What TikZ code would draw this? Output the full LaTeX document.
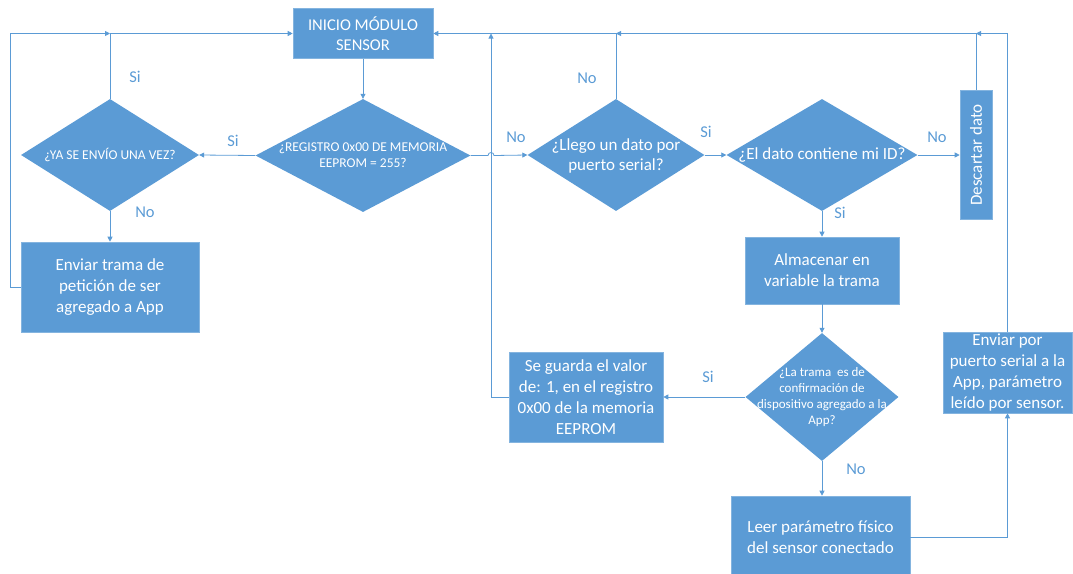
\documentclass[tikz,border=0pt]{standalone}
\usepackage{fontspec}
\setmainfont{Carlito}
\usetikzlibrary{shapes.geometric,arrows.meta}
\definecolor{ob}{HTML}{5B9BD5}
\begin{document}
\begin{tikzpicture}[x=1pt,y=-1pt,
  box/.style={rectangle, fill=ob, draw=ob!75!white, line width=0.6pt, text=white, align=center, inner sep=0pt, font=\fontsize{17}{21}\selectfont},
  dia/.style={diamond, fill=ob, draw=none, inner sep=0pt},
  dtext/.style={text=white, align=center, inner sep=0pt},
  lbl/.style={text=ob, font=\fontsize{16.5}{20}\selectfont, inner sep=0pt},
  flow/.style={draw=ob, line width=0.8pt, -{Triangle[length=5pt,width=5pt]}},
  plain/.style={draw=ob, line width=0.8pt}]
\useasboundingbox (0,0) rectangle (1073,573);
% nodes
\node[box, minimum width=140pt, minimum height=50pt, font=\fontsize{16.5}{20}\selectfont] (ini) at (363,33.5) {INICIO MÓDULO\\SENSOR};
\node[dia, minimum width=215pt, minimum height=113pt] (reg) at (363,155.5) {};
\node[dtext, font=\fontsize{13.5}{16.5}\selectfont] (regt) at (363,155) {¿REGISTRO 0x00 DE MEMORIA\\EEPROM = 255?};
\node[dia, minimum width=178pt, minimum height=112pt] (ya) at (110,155) {};
\node[dtext, font=\fontsize{13.5}{16}\selectfont] (yat) at (110,155) {¿YA SE ENVÍO UNA VEZ?};
\node[box, minimum width=178pt, minimum height=90pt] (env) at (110,287) {Enviar trama de\\petición de ser\\agregado a App};
\node[dia, minimum width=177pt, minimum height=112pt] (lle) at (616,155) {};
\node[dtext, font=\fontsize{17}{20}\selectfont] (llet) at (616,156) {¿Llego un dato por\\puerto serial?};
\node[dia, minimum width=191pt, minimum height=112pt] (eld) at (822,155) {};
\node[dtext, font=\fontsize{17}{20}\selectfont] (eldt) at (822,155) {¿El dato contiene mi ID?};
\node[box, minimum width=32pt, minimum height=129pt] (des) at (976,155) {};
\node[dtext, rotate=90, font=\fontsize{17}{20}\selectfont] (dest) at (des) {Descartar dato};
\node[box, minimum width=154pt, minimum height=67pt] (alm) at (822,270.5) {Almacenar en\\variable la trama};
\node[dia, minimum width=153pt, minimum height=128pt] (lat) at (822,397) {};
\node[dtext, font=\fontsize{13}{16}\selectfont] (latt) at (822,397) {¿La trama\ \ es de\\confirmación de\\dispositivo agregado a la\\App?};
\node[box, minimum width=154pt, minimum height=90pt] (seg) at (586,397) {Se guarda el valor\\de: 1, en el registro\\0x00 de la memoria\\EEPROM};
\node[box, minimum width=179pt, minimum height=82pt] (lee) at (820.5,537) {Leer parámetro físico\\del sensor conectado};
\node[box, minimum width=129pt, minimum height=81pt] (evp) at (1007.5,372.5) {Enviar por\\puerto serial a la\\App, parámetro\\leído por sensor.};
% labels
\node[lbl] (l1) at (135,77) {Si};
\node[lbl] (l2) at (233,141) {Si};
\node[lbl] (l3) at (145,212) {No};
\node[lbl] (l4) at (516,137) {No};
\node[lbl] (l5) at (587,78) {No};
\node[lbl] (l6) at (706,132) {Si};
\node[lbl] (l7) at (937,137) {No};
\node[lbl] (l8) at (840,213) {Si};
\node[lbl] (l9) at (708,377) {Si};
\node[lbl] (l10) at (856,469) {No};
% junction coordinates
\coordinate (ja) at (110,33.5);
\coordinate (jb) at (616,33.5);
\coordinate (jc) at (491,33.5);
\coordinate (jd) at (976,33.5);
\coordinate (jl) at (10,33.5);
\coordinate (jr) at (1007.5,33.5);
% connectors
\draw[flow] (ini.south) -- (reg.north);
\draw[flow] (reg.west) -- (ya.east);
\draw[flow] (ya.south) -- (env.north);
\draw[flow] (ya.north) |- (ini.west);
\draw[flow] (env.west) -| (jl) -- (ja);
\draw[flow] (reg.east) -- (488,155.5) arc[start angle=180, end angle=0, radius=3pt] -- (lle.west);
\draw[flow] (lle.north) |- (ini.east);
\draw[flow] (lle.east) -- (eld.west);
\draw[flow] (eld.east) -- (des.west);
\draw[flow] (des.north) |- (jb);
\draw[flow] (eld.south) -- (alm.north);
\draw[flow] (alm.south) -- (lat.north);
\draw[flow] (lat.west) -- (seg.east);
\draw[flow] (seg.west) -| (jc);
\draw[flow] (lat.south) -- (lat.south |- lee.north);
\draw[flow] (lee.east) -| (evp.south);
\draw[flow] (evp.north) -- (jr) -- (jd);
\end{tikzpicture}
\end{document}
